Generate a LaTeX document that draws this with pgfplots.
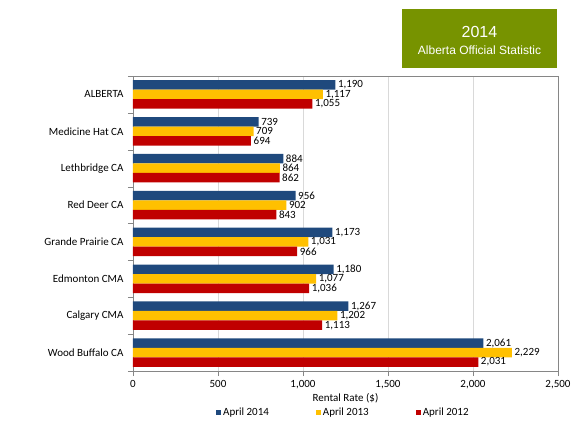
\documentclass[border=0pt]{standalone}
\usepackage{fontspec}
\setmainfont{Carlito}
\newfontfamily\arialf{Liberation Sans}
\usepackage{pgfplots}
\pgfplotsset{compat=1.18}
\definecolor{b14}{RGB}{31,73,125}
\definecolor{y13}{RGB}{255,192,0}
\definecolor{r12}{RGB}{192,0,0}
\definecolor{boxg}{RGB}{119,147,0}
\definecolor{frameg}{RGB}{134,134,134}
\definecolor{gridg}{RGB}{217,217,217}
\begin{document}
\begin{tikzpicture}[x=1pt,y=1pt]
\path[use as bounding box] (-133,-60) rectangle (453,371);
\fill[boxg] (269,303) rectangle (424,362);
\node[white,font=\arialf\fontsize{16}{18}\selectfont] at (346.5,339.5) {2014};
\node[white,font=\arialf\fontsize{12}{14}\selectfont] at (346.5,320.5) {Alberta Official Statistic};
\begin{axis}[
  at={(0,0)}, anchor=south west,
  scale only axis, width=425pt, height=295pt,
  xbar, bar width=9.5pt,
  xmin=0, xmax=2500, ymin=-0.5, ymax=7.5,
  xtick={0,500,...,2500},
  ytick={0,...,7},
  yticklabels={Wood Buffalo CA, Calgary CMA, Edmonton CMA, Grande Prairie CA, Red Deer CA, Lethbridge CA, Medicine Hat CA, ALBERTA},
  minor ytick={-0.5,0.5,...,7.5},
  xtick pos=bottom, ytick pos=left,
  tick align=outside,
  major tick length=5pt, minor tick length=5pt,
  major y tick style={draw=none},
  tick style={draw=frameg},
  axis line style={draw=frameg},
  xmajorgrids, grid style={draw=gridg, line width=0.8pt},
  /pgf/number format/.cd, 1000 sep={,}, assume math mode=true, /pgfplots/.cd,
  ticklabel style={font=\fontsize{11}{13}\selectfont},
  xticklabel style={yshift=-1pt},
  yticklabel style={xshift=-1pt},
  xlabel={Rental Rate (\$)},
  xlabel style={at={(axis description cs:0.5,-0.092)}, anchor=center, font=\fontsize{11}{13}\selectfont},
  nodes near coords,
  nodes near coords align={horizontal},
  every node near coord/.append style={font=\fontsize{11}{13}\selectfont, black, inner sep=1.5pt, xshift=1pt},
  legend style={at={(axis description cs:0.495,-0.14)}, anchor=center, draw=none, font=\fontsize{11}{13}\selectfont,
    /tikz/every even column/.append style={column sep=45pt}},
  legend columns=3,
  legend image code/.code={\fill[#1] (0pt,-2.5pt) rectangle (5pt,2.5pt);},
]
\addplot[fill=b14, draw=none, bar shift=9.5pt] coordinates {
 (2061,0) (1267,1) (1180,2) (1173,3) (956,4) (884,5) (739,6) (1190,7)};
\addplot[fill=y13, draw=none, bar shift=0pt] coordinates {
 (2229,0) (1202,1) (1077,2) (1031,3) (902,4) (864,5) (709,6) (1117,7)};
\addplot[fill=r12, draw=none, bar shift=-9.5pt] coordinates {
 (2031,0) (1113,1) (1036,2) (966,3) (843,4) (862,5) (694,6) (1055,7)};
\legend{April 2014, April 2013, April 2012}
\end{axis}
\end{tikzpicture}
\end{document}
